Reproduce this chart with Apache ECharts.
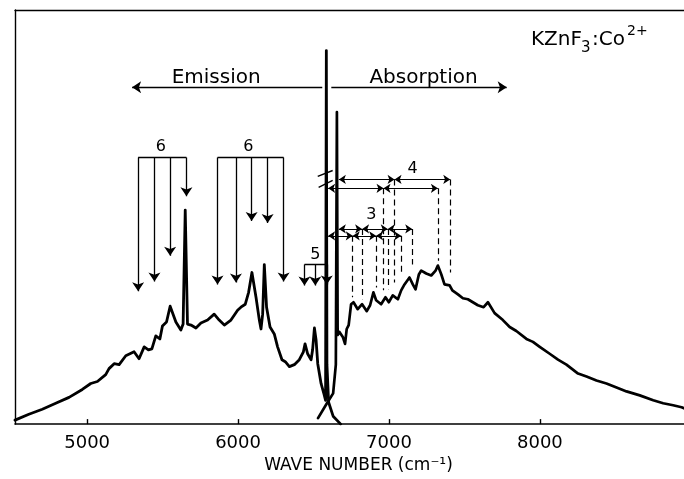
<!DOCTYPE html>
<html><head><meta charset="utf-8">
<script src="https://cdn.jsdelivr.net/npm/echarts@6/dist/echarts.min.js"></script>
<style>html,body{margin:0;padding:0;background:#fff}#c{width:684px;height:479px}</style>
</head><body><div id="c"></div>
<script>
// ---- data (wave number in cm^-1, intensity in arbitrary units) ----
const xTicks = [5000, 6000, 7000, 8000];

const emissionWN = [4522,4614,4703,4792,4880,4968,5024,5068,5123,5145,5179,5212,5256,5311,5344,5378,5406,5429,5455,5482,5499,5526,5550,5588,5621,5636,5650,5665,5688,5721,5754,5798,5842,5875,5909,5953,5997,6019,6048,6070,6092,6119,6141,6152,6163,6174,6189,6212,6240,6262,6291,6313,6340,6373,6406,6433,6444,6461,6484,6494,6506,6517,6528,6550,6570,6580,6585,6589,6600,6630,6680];
const emissionInt = [4,10,15,21,27,35,41,43,50,56,61,60,69,73,66,78,75,76,89,86,99,103,119,103,95,101,216,101,100,97,102,105,111,105,100,105,115,118,121,133,153,128,105,96,111,161,118,98,91,78,65,63,58,60,65,73,81,71,65,75,97,85,61,41,30,24,377,60,22,8,0];

const absorptionWN = [6530,6585,6630,6648,6655,6660,6672,6694,6709,6720,6733,6749,6765,6793,6822,6853,6875,6897,6915,6948,6977,6999,7025,7059,7081,7103,7136,7158,7176,7198,7214,7247,7280,7309,7324,7347,7368,7402,7420,7457,7490,7523,7556,7589,7627,7656,7700,7755,7800,7844,7911,7954,7999,8065,8120,8176,8253,8309,8375,8441,8508,8574,8662,8751,8817,8883,8939,8955];
const absorptionInt = [6,20,31,60,315,90,93,88,81,96,100,121,123,116,121,114,120,133,125,121,128,123,130,126,135,141,148,141,136,151,155,152,150,155,160,151,141,140,135,131,127,126,123,120,118,123,112,105,98,94,86,83,78,71,65,60,51,48,44,41,37,33,29,24,21,19,17,16];

// "6" / "5" emission progressions: arrow positions, arrow tips, bar levels
const group6aWN = [5338, 5446, 5550, 5658];
const group6aTip = [134, 144, 170, 230];
const group6bWN = [5864, 5986, 6090, 6196, 6302];
const group6bTip = [141, 143, 205, 203, 144];
const group5WN = [6440, 6512, 6588];
const group5Tip = [140, 140, 141];
const group6Level = 269;
const group5Level = 161;

// "4" / "3" absorption progressions (rows of double arrows) and dashed drops
const rowAWN = [6668, 7037, 7406];  const rowALevel = 247; const rowADrop = [143, 153];
const rowBWN = [6597, 6964, 7324];  const rowBLevel = 238; const rowBDrop = [135, 165];
const rowCWN = [6668, 6822, 6992, 7154]; const rowCLevel = 197; const rowCDrop = [126, 136, 161];
const rowDWN = [6597, 6760, 6915, 7081]; const rowDLevel = 190; const rowDDrop = [128, 138, 152];

// Emission / Absorption direction arrows
const dirLevel = 340;
const emissionArrow = [6558, 5298];
const absorptionArrow = [6618, 7780];

// break marks on the emission line
const breakMarks = [[[6528, 250], [6627, 256]], [[6534, 239], [6627, 246]]];

// text labels
const labelText = ['Emission', 'Absorption', '6', '6', '5', '4', '3'];
const labelWN = [5855, 7229, 5488, 6068, 6512, 7156, 6884];
const labelLevel = [350, 350, 280, 280, 171, 258, 211];
const labelSize = [20, 20, 16, 16, 16, 16, 16];

// ---- build ----
const ink = '#000';
const zip = (a, b) => a.map((v, i) => [v, b[i]]);

const singleArrows = [];
const plainLines = [];
function fan(wns, tips, level) {
  plainLines.push({coords: [[wns[0], level], [wns[wns.length - 1], level]]});
  wns.forEach((w, i) => singleArrows.push({coords: [[w, level], [w, tips[i]]]}));
}
fan(group6aWN, group6aTip, group6Level);
fan(group6bWN, group6bTip, group6Level);
fan(group5WN, group5Tip, group5Level);
singleArrows.push({coords: [[emissionArrow[0], dirLevel], [emissionArrow[1], dirLevel]]});
singleArrows.push({coords: [[absorptionArrow[0], dirLevel], [absorptionArrow[1], dirLevel]]});
breakMarks.forEach(m => plainLines.push({coords: m}));

const doubleArrows = [];
const dashes = [];
function row(wns, level, drops) {
  for (let i = 0; i < wns.length - 1; i++) doubleArrows.push({coords: [[wns[i], level], [wns[i + 1], level]]});
  wns.slice(1).forEach((w, i) => dashes.push({coords: [[w, level], [w, drops[i]]]}));
}
row(rowAWN, rowALevel, rowADrop);
row(rowBWN, rowBLevel, rowBDrop);
row(rowCWN, rowCLevel, rowCDrop);
row(rowDWN, rowDLevel, rowDDrop);

const font = 'DejaVu Sans';
const chart = echarts.init(document.getElementById('c'), null, {renderer: 'canvas'});
chart.setOption({
  animation: false,
  backgroundColor: '#fff',
  grid: {left: 15, right: 0, top: 10, bottom: 51, containLabel: false},
  xAxis: [{
    type: 'value', min: 4522, max: 8955, position: 'bottom',
    axisLine: {show: true, onZero: false, lineStyle: {color: ink, width: 1.6}},
    axisTick: {show: true, inside: true, length: 5, customValues: xTicks, lineStyle: {color: ink, width: 1.4}},
    axisLabel: {show: true, customValues: xTicks, margin: 10, color: ink, fontSize: 18, fontFamily: font,
                formatter: v => String(v)},
    splitLine: {show: false},
    name: 'WAVE NUMBER (cm\u207B\u00B9)', nameLocation: 'middle', nameGap: 31,
    nameTextStyle: {color: ink, fontSize: 17, fontFamily: font, padding: [0, 0, 0, 18], verticalAlign: 'top'}
  }, {
    type: 'value', min: 4522, max: 8955, position: 'top',
    axisLine: {show: true, onZero: false, lineStyle: {color: ink, width: 1.4}},
    axisTick: {show: false}, axisLabel: {show: false}, splitLine: {show: false}
  }],
  yAxis: {
    type: 'value', min: 0, max: 418,
    axisLine: {show: true, onZero: false, lineStyle: {color: ink, width: 1.4}},
    axisTick: {show: false}, axisLabel: {show: false}, splitLine: {show: false}
  },
  series: [
    {type: 'line', data: zip(emissionWN, emissionInt), showSymbol: false, symbol: 'none',
     lineStyle: {color: ink, width: 2.8, join: 'round', cap: 'round'}, z: 5, clip: true},
    {type: 'line', data: zip(absorptionWN, absorptionInt), showSymbol: false, symbol: 'none',
     lineStyle: {color: ink, width: 2.7, join: 'round', cap: 'round'}, z: 5, clip: true},
    {type: 'lines', coordinateSystem: 'cartesian2d', data: singleArrows,
     symbol: ['none', 'arrow'], symbolSize: [0, 9],
     lineStyle: {color: ink, width: 1.3, opacity: 1, curveness: 0}, z: 6},
    {type: 'lines', coordinateSystem: 'cartesian2d', data: doubleArrows,
     symbol: ['arrow', 'arrow'], symbolSize: 7,
     lineStyle: {color: ink, width: 1.2, opacity: 1, curveness: 0}, z: 6},
    {type: 'lines', coordinateSystem: 'cartesian2d', data: plainLines, symbol: 'none',
     lineStyle: {color: ink, width: 1.4, opacity: 1, curveness: 0}, z: 6},
    {type: 'lines', coordinateSystem: 'cartesian2d', data: dashes, symbol: 'none',
     lineStyle: {color: ink, width: 1.2, opacity: 1, curveness: 0, type: [6, 4]}, z: 4},
    {type: 'custom', renderItem: (params, api) => {
       const p = api.coord([api.value(0), api.value(1)]);
       const i = params.dataIndex;
       return {type: 'text', x: p[0], y: p[1],
         style: {text: labelText[i], fontSize: labelSize[i], fontFamily: font, fill: ink,
                 align: 'center', verticalAlign: 'middle'}};
     },
     data: zip(labelWN, labelLevel), z: 7, silent: true}
  ],
  graphic: [{
    type: 'group', left: 531, top: 24,
    children: [
      {type: 'text', x: 0, y: 19, style: {text: 'KZnF', fontSize: 20, fontFamily: font, fill: ink, verticalAlign: 'middle'}},
      {type: 'text', x: 50, y: 27, style: {text: '3', fontSize: 15, fontFamily: font, fill: ink, verticalAlign: 'middle'}},
      {type: 'text', x: 61, y: 19, style: {text: ':Co', fontSize: 20, fontFamily: font, fill: ink, verticalAlign: 'middle'}},
      {type: 'text', x: 96, y: 10, style: {text: '2+', fontSize: 14, fontFamily: font, fill: ink, verticalAlign: 'middle'}}
    ]
  }]
});
</script></body></html>
